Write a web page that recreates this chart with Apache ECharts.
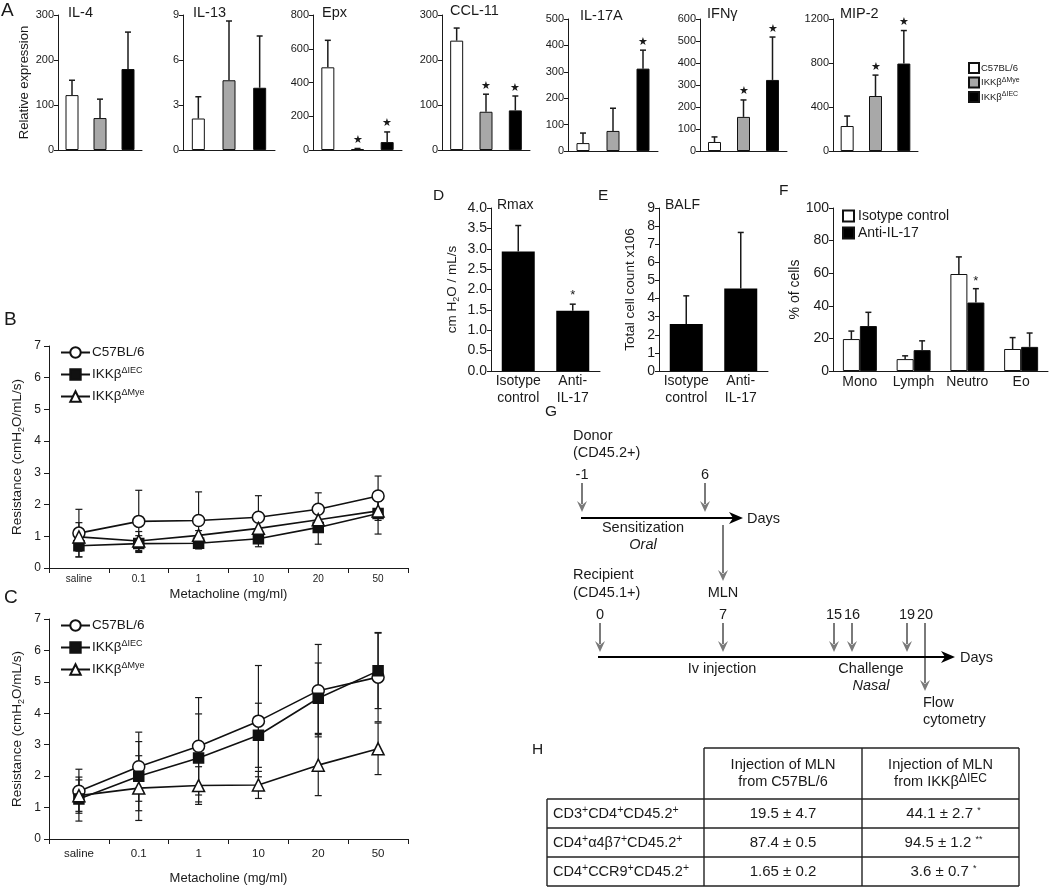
<!DOCTYPE html>
<html>
<head>
<meta charset="utf-8" />
<title>IKKβ figure</title>
<script src="https://cdn.jsdelivr.net/npm/echarts@6/dist/echarts.min.js"></script>
<style>
  body { margin: 0; background: #fff; }
  #main { width: 1050px; height: 887px; }
</style>
</head>
<body>
<div id="main"></div>
<script type="text/javascript">
// ---- data ----
var strainNames = ["C57BL/6", "IKKβΔMye", "IKKβΔIEC"];
var cytokines = ["IL-4", "IL-13", "Epx", "CCL-11", "IL-17A", "IFNγ", "MIP-2"];
var cytoMax = [300, 9, 800, 300, 500, 600, 1200];
var cytoStep = [100, 3, 200, 100, 100, 100, 400];
var il4Mean = [122, 71, 180],     il4Top = [155, 113, 262];
var il13Mean = [2.1, 4.65, 4.15], il13Top = [3.55, 8.6, 7.6];
var epxMean = [490, 6, 47],       epxTop = [650, 9, 107];
var ccl11Mean = [243, 85, 88],    ccl11Top = [271, 124, 120];
var il17Mean = [30, 76, 312],     il17Top = [68, 162, 382];
var ifngMean = [41, 155, 323],    ifngTop = [64, 232, 518];
var mip2Mean = [227, 500, 795],   mip2Top = [318, 690, 1095];
var cytoStars = [[0,0,0],[0,0,0],[0,1,1],[0,1,1],[0,0,1],[0,1,1],[0,1,1]];

var treatNames = ["Isotype\ncontrol", "Anti-\nIL-17"];
var rmaxMean = [2.93, 1.48], rmaxTop = [3.57, 1.64], rmaxStar = [0, 1];
var balfMean = [2.6, 4.55],  balfTop = [4.15, 7.65];

var cellTypes = ["Mono", "Lymph", "Neutro", "Eo"];
var isoCells = [19.6, 7.3, 59.5, 13.5],  isoTop = [24.5, 9.3, 70, 20.5];
var antiCells = [27.6, 12.8, 42, 14.8],  antiTop = [36, 18.5, 50.5, 23.3];
var antiStar = [0, 0, 1, 0];

var doses = ["saline", "0.1", "1", "10", "20", "50"];
var bC57 = [1.1, 1.47, 1.5, 1.6, 1.85, 2.27],  bC57Sd = [0.75, 0.98, 0.9, 0.68, 0.52, 0.63];
var bIEC = [0.7, 0.77, 0.78, 0.92, 1.28, 1.72], bIECSd = [0.35, 0.25, 0.13, 0.25, 0.53, 0.65];
var bMye = [0.98, 0.85, 1.03, 1.25, 1.52, 1.8], bMyeSd = [0.45, 0.3, 0.15, 0.2, 0.3, 0.3];
var cC57 = [1.52, 2.3, 2.95, 3.75, 4.72, 5.15], cC57Sd = [0.7, 1.1, 1.55, 1.77, 1.47, 1.42];
var cIEC = [1.27, 2.0, 2.58, 3.3, 4.48, 5.35],  cIECSd = [0.7, 1.1, 1.4, 1.02, 1.12, 1.2];
var cMye = [1.38, 1.62, 1.7, 1.72, 2.35, 2.87], cMyeSd = [0.5, 1.03, 0.6, 0.43, 0.97, 0.82];

var donorDays = ["-1", "6"];
var recipientDays = ["0", "7", "15", "16", "19", "20"];

var tableHead = ["Injection of MLN\nfrom C57BL/6", "Injection of MLN\nfrom IKKβΔIEC"];
var tableRows = ["CD3+CD4+CD45.2+", "CD4+α4β7+CD45.2+", "CD4+CCR9+CD45.2+"];
var c57Vals = ["19.5 ± 4.7", "87.4 ± 0.5", "1.65 ± 0.2"];
var iecVals = ["44.1 ± 2.7", "94.5 ± 1.2", "3.6 ± 0.7"];
var iecSig = ["*", "**", "*"];

// ---- chart ----
var FONT = '"Liberation Sans", Arial, sans-serif';
var INK = '#1a1a1a';
var chart = echarts.init(document.getElementById('main'));

var grids = [], xAxes = [], yAxes = [], series = [], titles = [], graphics = [];

function addGrid(box, x, y) {
  grids.push({ left: box[0], top: box[1], width: box[2] - box[0], height: box[3] - box[1], outerBoundsMode: 'none' });
  var gi = grids.length - 1;
  x.gridIndex = gi; y.gridIndex = gi;
  xAxes.push(x); yAxes.push(y);
  return gi;
}
function lineStyle() { return { show: true, lineStyle: { color: INK, width: 1 } }; }
function label(text, x, y, size, extra) {
  titles.push({ text: text, left: x, top: y, padding: 0,
    textStyle: Object.assign({ fontSize: size, fontWeight: 'normal', color: INK, fontFamily: FONT }, extra || {}) });
}
function sup(s) { return s.replace(/Δ(\w+)/, '{s|Δ$1}'); }
function plain(v) { return String(v); }

// error bar (upward) with optional star
function errBars(gi, means, tops, stars, dx, starText, starSize, starGap) {
  return {
    type: 'custom', xAxisIndex: gi, yAxisIndex: gi, z: 3, silent: true,
    data: means.map(function (m, i) { return [i, m, tops[i], stars ? stars[i] : 0]; }),
    renderItem: function (params, api) {
      var a = api.coord([api.value(0), api.value(1)]);
      var b = api.coord([api.value(0), api.value(2)]);
      var x = a[0] + dx;
      var kids = [
        { type: 'line', shape: { x1: x, y1: a[1], x2: x, y2: b[1] }, style: { stroke: INK, lineWidth: 1.5 } },
        { type: 'line', shape: { x1: x - 3, y1: b[1], x2: x + 3, y2: b[1] }, style: { stroke: INK, lineWidth: 1.5 } }
      ];
      if (api.value(3)) {
        kids.push({ type: 'text', x: x, y: b[1] - starGap,
          style: { text: starText, fontSize: starSize, fill: INK, align: 'center', verticalAlign: 'bottom', fontFamily: FONT } });
      }
      return { type: 'group', children: kids };
    }
  };
}
// symmetric SD bars
function sdBars(gi, means, sds) {
  return {
    type: 'custom', xAxisIndex: gi, yAxisIndex: gi, z: 2, silent: true,
    data: means.map(function (m, i) { return [i, m - sds[i], m + sds[i]]; }),
    renderItem: function (params, api) {
      var lo = api.coord([api.value(0), api.value(1)]);
      var hi = api.coord([api.value(0), api.value(2)]);
      var x = lo[0], st = { stroke: INK, lineWidth: 1.2 };
      return { type: 'group', children: [
        { type: 'line', shape: { x1: x, y1: lo[1], x2: x, y2: hi[1] }, style: st },
        { type: 'line', shape: { x1: x - 3.5, y1: lo[1], x2: x + 3.5, y2: lo[1] }, style: st },
        { type: 'line', shape: { x1: x - 3.5, y1: hi[1], x2: x + 3.5, y2: hi[1] }, style: st }
      ] };
    }
  };
}

// ---- panel A ----
var strainFill = ['#ffffff', '#a8a8a8', '#000000'];
var cytoMeans = [il4Mean, il13Mean, epxMean, ccl11Mean, il17Mean, ifngMean, mip2Mean];
var cytoTops = [il4Top, il13Top, epxTop, ccl11Top, il17Top, ifngTop, mip2Top];
var aLeft = [58, 183, 313, 442, 568, 700, 833];
var aRight = [142, 275, 402, 530, 658, 787, 918];
var aTop = [15, 15, 15, 15, 19, 19, 19];
var aTitle = [[68, 5], [193, 5], [322, 5], [450, 3], [580, 8], [707, 6], [840, 6]];
label('A', 1, 1, 19);
cytokines.forEach(function (name, p) {
  var gi = addGrid([aLeft[p], aTop[p], aRight[p], p < 4 ? 150 : 151],
    { type: 'category', data: strainNames, axisLine: lineStyle(), axisTick: { show: false }, axisLabel: { show: false } },
    { type: 'value', min: 0, max: cytoMax[p], interval: cytoStep[p], axisLine: lineStyle(),
      axisTick: { show: true, length: 4, lineStyle: { color: INK } }, splitLine: { show: false },
      axisLabel: { fontSize: 11, color: INK, margin: 4, fontFamily: FONT, formatter: plain },
      name: p === 0 ? 'Relative expression' : '', nameLocation: 'middle', nameGap: 27,
      nameTextStyle: { fontSize: 13, color: INK, fontFamily: FONT } });
  strainNames.forEach(function (s, g) {
    series.push({ type: 'bar', name: 'A|' + s, xAxisIndex: gi, yAxisIndex: gi, barWidth: 13, barGap: '-100%',
      data: cytoMeans[p].map(function (v, i) { return i === g ? v : '-'; }),
      itemStyle: { color: strainFill[g], borderColor: '#111', borderWidth: 1 } });
  });
  series.push(errBars(gi, cytoMeans[p], cytoTops[p], cytoStars[p], 0, '★', 11, 3));
  label(name, aTitle[p][0], aTitle[p][1], 14.5);
});

// ---- panels D, E ----
function treatGrid(box, max, step, fmt, yname, gap) {
  return addGrid(box,
    { type: 'category', data: treatNames, axisLine: lineStyle(), axisTick: { show: false },
      axisLabel: { interval: 0, fontSize: 14, color: INK, margin: 2, lineHeight: 17, fontFamily: FONT } },
    { type: 'value', min: 0, max: max, interval: step, axisLine: lineStyle(),
      axisTick: { show: true, length: 4, lineStyle: { color: INK } }, splitLine: { show: false },
      axisLabel: { fontSize: 14, color: INK, margin: 4, formatter: fmt, fontFamily: FONT },
      name: yname, nameLocation: 'middle', nameGap: gap,
      nameTextStyle: { fontSize: 13.5, color: INK, fontFamily: FONT,
        rich: { b: { fontSize: 9, padding: [8, 0, 0, 0], fontFamily: FONT } } } });
}
label('D', 433, 188, 15.5);
label('Rmax', 497, 198, 14);
var gD = treatGrid([491, 208, 600, 371], 4, 0.5, function (v) { return v.toFixed(1); }, 'cm H{b|2}O / mL/s', 30);
series.push({ type: 'bar', xAxisIndex: gD, yAxisIndex: gD, barWidth: 33, data: rmaxMean, itemStyle: { color: '#000' } });
series.push(errBars(gD, rmaxMean, rmaxTop, rmaxStar, 0, '*', 13, 2));

label('E', 598, 188, 15.5);
label('BALF', 665, 198, 14);
var gE = treatGrid([659, 208, 768, 371], 9, 1, plain, 'Total cell count x106', 22);
series.push({ type: 'bar', xAxisIndex: gE, yAxisIndex: gE, barWidth: 33, data: balfMean, itemStyle: { color: '#000' } });
series.push(errBars(gE, balfMean, balfTop, null, 0, '', 0, 0));

// ---- panel F ----
label('F', 779, 183, 15.5);
var gF = addGrid([833, 208, 1048, 371],
  { type: 'category', data: cellTypes, axisLine: lineStyle(), axisTick: { show: false },
    axisLabel: { interval: 0, fontSize: 14, color: INK, margin: 4, fontFamily: FONT } },
  { type: 'value', min: 0, max: 100, interval: 20, axisLine: lineStyle(),
    axisTick: { show: true, length: 4, lineStyle: { color: INK } }, splitLine: { show: false },
    axisLabel: { fontSize: 14, color: INK, margin: 4, fontFamily: FONT },
    name: '% of cells', nameLocation: 'middle', nameGap: 30,
    nameTextStyle: { fontSize: 14, color: INK, fontFamily: FONT } });
series.push({ type: 'bar', name: 'F|Isotype control', xAxisIndex: gF, yAxisIndex: gF, barWidth: 17, barGap: '0%',
  data: isoCells, itemStyle: { color: '#fff', borderColor: '#111', borderWidth: 1 } });
series.push({ type: 'bar', name: 'F|Anti-IL-17', xAxisIndex: gF, yAxisIndex: gF, barWidth: 17, barGap: '0%',
  data: antiCells, itemStyle: { color: '#000', borderColor: '#111', borderWidth: 1 } });
series.push(errBars(gF, isoCells, isoTop, null, -8.5, '', 0, 0));
series.push(errBars(gF, antiCells, antiTop, antiStar, 8.5, '*', 13, 1));

// ---- panels B, C ----
var lineNames = ["C57BL/6", "IKKβΔIEC", "IKKβΔMye"];
var lineSym = ['circle', 'rect', 'triangle'];
var lineSize = [12, 10, 12];
var lineFill = ['#fff', '#111', '#fff'];
function dosePanel(tag, box, lblSize, lblMargin, nameGap, sets) {
  var gi = addGrid(box,
    { type: 'category', data: doses, boundaryGap: true, axisLine: lineStyle(),
      axisTick: { show: true, length: 5, alignWithLabel: false, lineStyle: { color: INK } },
      axisLabel: { interval: 0, fontSize: lblSize, color: INK, margin: lblMargin, fontFamily: FONT },
      name: 'Metacholine (mg/ml)', nameLocation: 'middle', nameGap: nameGap,
      nameTextStyle: { fontSize: 13, color: INK, fontFamily: FONT } },
    { type: 'value', min: 0, max: 7, interval: 1, axisLine: lineStyle(),
      axisTick: { show: true, length: 5, lineStyle: { color: INK } }, splitLine: { show: false },
      axisLabel: { fontSize: 12, color: INK, margin: 8, fontFamily: FONT },
      name: 'Resistance (cmH{b|2}O/mL/s)', nameLocation: 'middle', nameGap: 23,
      nameTextStyle: { fontSize: 13.5, color: INK, fontFamily: FONT,
        rich: { b: { fontSize: 9, padding: [8, 0, 0, 0], fontFamily: FONT } } } });
  sets.forEach(function (s, k) {
    series.push(sdBars(gi, s[0], s[1]));
    series.push({ type: 'line', name: tag + '|' + lineNames[k], xAxisIndex: gi, yAxisIndex: gi, z: 4,
      data: s[0], symbol: lineSym[k], symbolSize: lineSize[k],
      lineStyle: { color: '#111', width: 1.6 },
      itemStyle: { color: lineFill[k], borderColor: '#111', borderWidth: 1.5 } });
  });
}
label('B', 4, 310, 19);
dosePanel('B', [49, 346, 408, 568], 10, 6, 20, [[bC57, bC57Sd], [bIEC, bIECSd], [bMye, bMyeSd]]);
label('C', 4, 588, 19);
dosePanel('C', [49, 619, 408, 839], 11.5, 9, 33, [[cC57, cC57Sd], [cIEC, cIECSd], [cMye, cMyeSd]]);

// ---- legends ----
function legendFmt(n) { return sup(n.split('|')[1]); }
var legends = [
  { data: strainNames.map(function (s) { return 'A|' + s; }), left: 968, top: 62, orient: 'vertical', padding: 0,
    icon: 'rect', itemWidth: 10, itemHeight: 10, itemGap: 2.5, selectedMode: false, formatter: legendFmt,
    textStyle: { fontSize: 9.5, color: INK, fontFamily: FONT, padding: [0, 0, 0, -3],
      rich: { s: { fontSize: 7, padding: [0, 0, 5, 0], fontFamily: FONT } } } },
  { data: ['F|Isotype control', 'F|Anti-IL-17'], left: 842, top: 209, orient: 'vertical', padding: 0,
    icon: 'rect', itemWidth: 11, itemHeight: 11, itemGap: 3, selectedMode: false, formatter: legendFmt,
    textStyle: { fontSize: 14, color: INK, fontFamily: FONT, padding: [0, 0, 0, -1] } }
];
['B', 'C'].forEach(function (tag, k) {
  legends.push({ data: lineNames.map(function (s) { return tag + '|' + s; }), left: 60, top: k === 0 ? 345.5 : 618.5,
    orient: 'vertical', padding: 0, itemWidth: 29, itemHeight: 13, itemGap: 7, selectedMode: false, formatter: legendFmt,
    textStyle: { fontSize: 13.5, color: INK, fontFamily: FONT, padding: [0, 0, 0, -3],
      rich: { s: { fontSize: 9, padding: [0, 0, 7, 0], fontFamily: FONT } } } });
});

// ---- panel G (schematic) ----
function T(text, x, y, opt) {
  graphics.push({ type: 'text', x: x, y: y, silent: true,
    style: Object.assign({ text: text, fontSize: 14.5, fill: INK, fontFamily: FONT, align: 'left', verticalAlign: 'middle' }, opt || {}) });
}
function grayArrow(x, y1, y2) {
  graphics.push({ type: 'line', silent: true, shape: { x1: x, y1: y1, x2: x, y2: y2 - 8 }, style: { stroke: '#7a7a7a', lineWidth: 2 } });
  graphics.push({ type: 'polygon', silent: true, shape: { points: [[x - 5, y2 - 11], [x, y2 - 7], [x + 5, y2 - 11], [x, y2]] }, style: { fill: '#7a7a7a' } });
}
function timeline(x1, x2, y) {
  graphics.push({ type: 'line', silent: true, shape: { x1: x1, y1: y, x2: x2 - 8, y2: y }, style: { stroke: '#000', lineWidth: 2 } });
  graphics.push({ type: 'polygon', silent: true, shape: { points: [[x2 - 14, y - 6], [x2, y], [x2 - 14, y + 6], [x2 - 10, y]] }, style: { fill: '#000' } });
}
label('G', 545, 404, 15.5);
T('Donor', 573, 436); T('(CD45.2+)', 573, 453);
var donorX = [582, 705];
donorDays.forEach(function (d, i) { T(d, donorX[i], 475, { align: 'center' }); grayArrow(donorX[i], 483, 512); });
timeline(581, 743, 518);
T('Days', 747, 519);
T('Sensitization', 643, 528, { align: 'center' });
T('Oral', 643, 545, { align: 'center', fontStyle: 'italic' });
grayArrow(723, 525, 581);
T('MLN', 723, 593, { align: 'center' });
T('Recipient', 573, 575); T('(CD45.1+)', 573, 593);
var recipX = [600, 723, 834, 852, 907, 925];
recipientDays.forEach(function (d, i) {
  T(d, recipX[i], 615, { align: 'center' });
  grayArrow(recipX[i], 623, i === recipientDays.length - 1 ? 691 : 652);
});
timeline(598, 955, 657);
T('Days', 960, 658);
T('Iv injection', 722, 669, { align: 'center' });
T('Challenge', 871, 669, { align: 'center' });
T('Nasal', 871, 686, { align: 'center', fontStyle: 'italic' });
T('Flow', 923, 703); T('cytometry', 923, 720);

// ---- panel H (table) ----
label('H', 532, 742, 15.5);
var tx = [547, 704, 862, 1019], ty = [748, 799, 828, 857, 886];
function L(x1, y1, x2, y2) {
  graphics.push({ type: 'line', silent: true, shape: { x1: x1, y1: y1, x2: x2, y2: y2 }, style: { stroke: '#222', lineWidth: 1.4 } });
}
L(tx[1], ty[0], tx[3], ty[0]);
for (var r = 1; r < ty.length; r++) L(tx[0], ty[r], tx[3], ty[r]);
L(tx[0], ty[1], tx[0], ty[4]);
for (var c = 1; c < tx.length; c++) L(tx[c], ty[0], tx[c], ty[4]);
var richT = { p: { fontSize: 10.5, padding: [0, 0, 7, 0], fontFamily: FONT, fill: INK },
  s: { fontSize: 12, padding: [0, 0, 7, 0], fontFamily: FONT, fill: INK },
  a: { fontSize: 9, padding: [0, 0, 6, 0], fontFamily: FONT, fill: INK } };
tableHead.forEach(function (h, i) {
  var lines = h.split('\n');
  var cx = (tx[i + 1] + tx[i + 2]) / 2;
  T(lines[0], cx, 765, { align: 'center' });
  T(sup(lines[1]), cx, 782, { align: 'center', rich: richT });
});
tableRows.forEach(function (row, i) {
  var cy = (ty[i + 1] + ty[i + 2]) / 2;
  T(row.replace(/\+/g, '{p|+}'), 553, cy, { rich: richT });
  T(c57Vals[i], (tx[1] + tx[2]) / 2, cy, { align: 'center', fontSize: 15 });
  T(iecVals[i] + ' {a|' + iecSig[i] + '}', (tx[2] + tx[3]) / 2 + 3, cy, { align: 'center', fontSize: 15, rich: richT });
});

chart.setOption({
  animation: false,
  backgroundColor: '#fff',
  textStyle: { fontFamily: FONT, color: INK },
  title: titles,
  legend: legends,
  grid: grids,
  xAxis: xAxes,
  yAxis: yAxes,
  series: series,
  graphic: graphics
});
</script>
</body>
</html>
